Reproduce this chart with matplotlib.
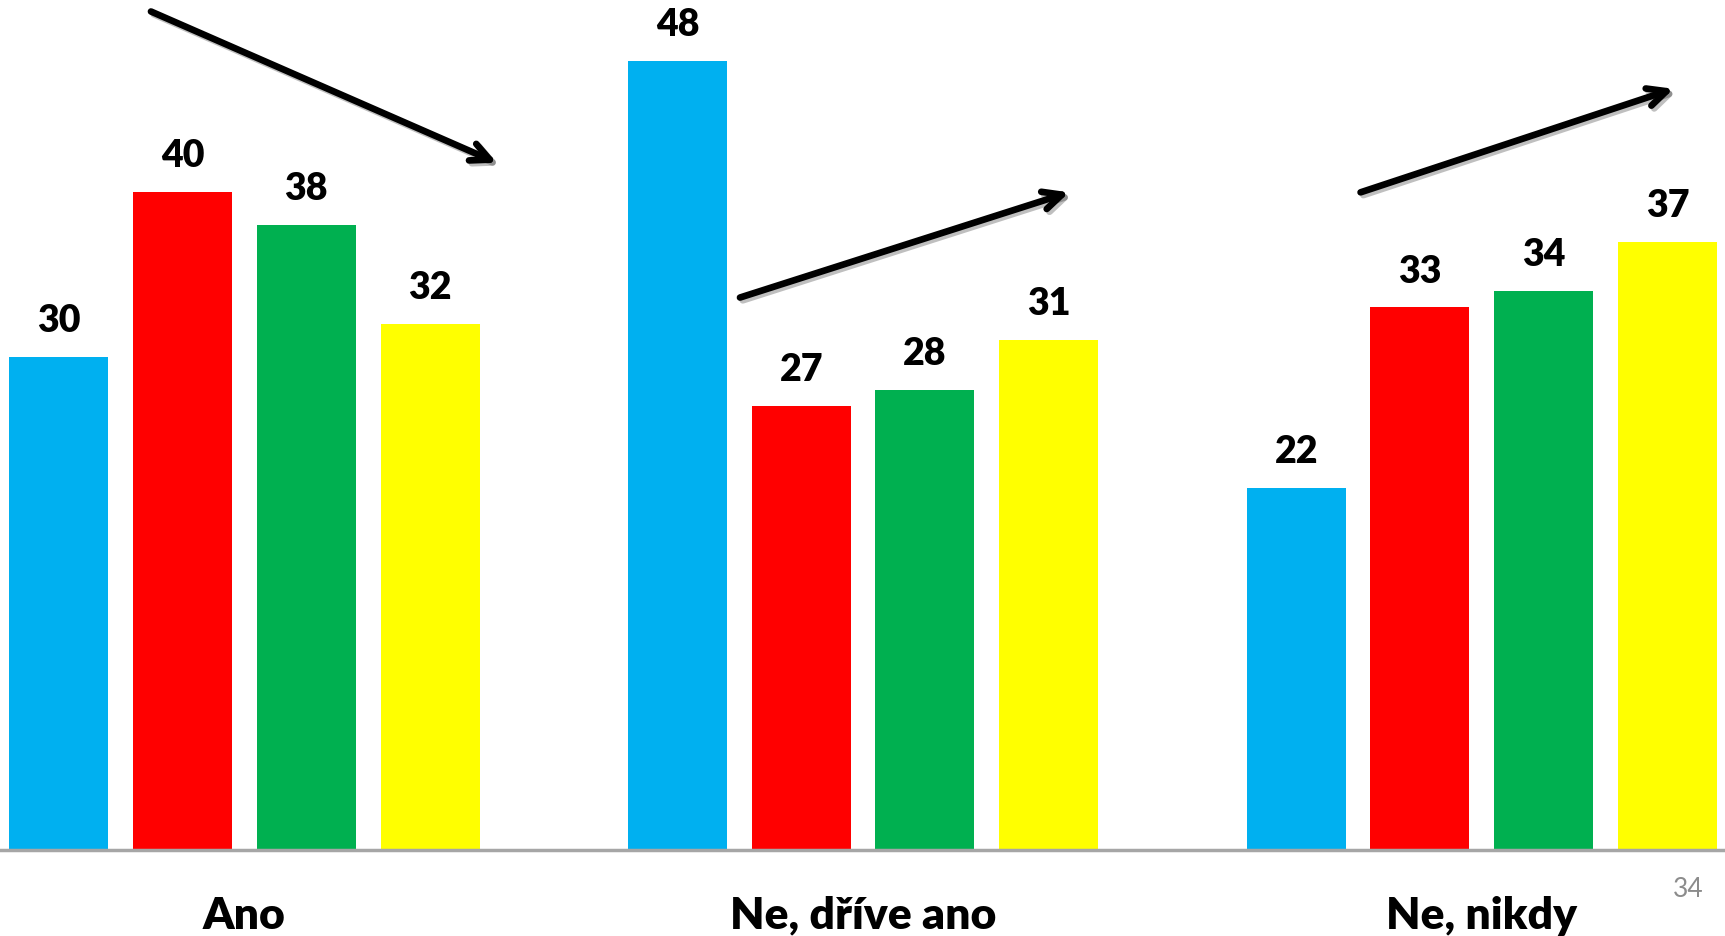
import numpy as np
import matplotlib
matplotlib.use('Agg')
import matplotlib.pyplot as plt
import matplotlib.patheffects as pe

plt.rcParams['font.family'] = ['Lato', 'DejaVu Sans']

# Data
categories = ['Ano', 'Ne, dříve ano', 'Ne, nikdy']
blue_vals = [30, 48, 22]
red_vals = [40, 27, 33]
green_vals = [38, 28, 34]
yellow_vals = [32, 31, 37]
series = [blue_vals, red_vals, green_vals, yellow_vals]
colors = ['#00B0F0', '#FF0000', '#00B050', '#FFFF00']

# trend arrows (start, end) in data coords
arrows = [((-0.151, 51.0), (0.408, 41.8)),
          ((0.801, 33.6), (1.333, 40.0)),
          ((1.804, 40.0), (2.310, 46.3))]

BAR_W = 0.16
STEP = 0.2

fig = plt.figure(figsize=(17.25, 9.36), dpi=100)
ax = fig.add_axes([0, 0.092, 1, 0.908])

x = np.arange(len(categories))
for i, (vals, col) in enumerate(zip(series, colors)):
    pos = x + (i - 1.5) * STEP
    ax.bar(pos, vals, width=BAR_W, color=col, zorder=2)
    for p, v in zip(pos, vals):
        ax.text(p, v + 1.15, str(v), ha='center', va='bottom',
                fontsize=27, fontweight='heavy', color='black')

for (x0, y0), (x1, y1) in arrows:
    ax.annotate('', xy=(x1, y1), xytext=(x0, y0),
                arrowprops=dict(arrowstyle='->,head_length=1.35,head_width=0.65',
                                lw=4.8, color='black', shrinkA=0, shrinkB=0,
                                capstyle='round', joinstyle='round',
                                path_effects=[pe.SimpleLineShadow(offset=(2, -2), alpha=0.25),
                                              pe.Normal()]),
                zorder=3)

ax.set_xlim(-0.395, 2.393)
ax.set_ylim(0, 51.7)
for s in ['top', 'right', 'left']:
    ax.spines[s].set_visible(False)
ax.spines['bottom'].set_color('#A6A6A6')
ax.spines['bottom'].set_linewidth(2.5)
ax.set_yticks([])
ax.set_xticks(x)
ax.set_xticklabels(categories, fontsize=32, fontweight='heavy')
ax.tick_params(axis='x', length=0, pad=33)

fig.text(0.9785, 0.036, '34', ha='center', va='bottom', fontsize=19, color='#8C8C8C')

fig.savefig('out.png', dpi=100)
